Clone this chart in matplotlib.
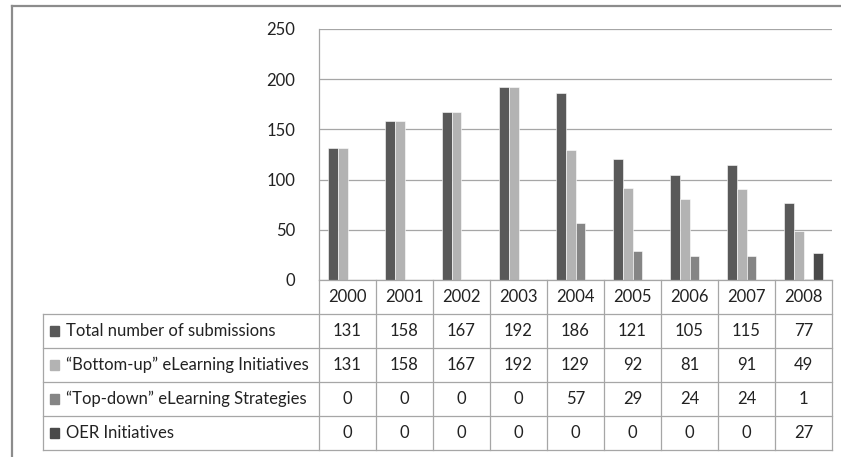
import matplotlib
matplotlib.use("Agg")
import matplotlib.pyplot as plt
from matplotlib.lines import Line2D
import numpy as np

plt.rcParams["font.family"] = ["Lato", "DejaVu Sans"]

# ── Data ─────────────────────────────────────────────────────────────────────
years = ["2000", "2001", "2002", "2003", "2004", "2005", "2006", "2007", "2008"]
total = [131, 158, 167, 192, 186, 121, 105, 115, 77]
bottom_up = [131, 158, 167, 192, 129, 92, 81, 91, 49]
top_down = [0, 0, 0, 0, 57, 29, 24, 24, 1]
oer = [0, 0, 0, 0, 0, 0, 0, 0, 27]

series_names = [
    "Total number of submissions",
    "\u201cBottom-up\u201d eLearning Initiatives",
    "\u201cTop-down\u201d eLearning Strategies",
    "OER Initiatives",
]
series_vals = [total, bottom_up, top_down, oer]
colors = ["#595959", "#b3b3b3", "#858585", "#4a4a4a"]
y_ticks = [0, 50, 100, 150, 200, 250]

# ── Layout (pixels of the 841x457 canvas) ────────────────────────────────────
W, H = 841, 457
PLOT_L, PLOT_R, PLOT_T, PLOT_B = 319, 832, 29, 280
TBL_L, TBL_B = 43, 450
GRID = "#a6a6a6"
TXT = "#222222"
FS = 12

fig = plt.figure(figsize=(W / 100, H / 100), dpi=100)

ax = fig.add_axes([PLOT_L / W, 1 - PLOT_B / H,
                   (PLOT_R - PLOT_L) / W, (PLOT_B - PLOT_T) / H])
x = np.arange(len(years))
bw = 0.175
for k, (vals, c) in enumerate(zip(series_vals, colors)):
    ax.bar(x + (k - 1.5) * bw, vals, width=bw, color=c,
           edgecolor="white", linewidth=0.4, zorder=3)

ax.set_xlim(-0.5, len(years) - 0.5)
ax.set_ylim(0, 250)
ax.set_yticks(y_ticks)
ax.set_xticks([])
ax.yaxis.grid(True, color=GRID, lw=0.9, zorder=0)
ax.tick_params(axis="y", length=0, pad=17, labelsize=FS, labelcolor=TXT)
for side in ("top", "right", "bottom"):
    ax.spines[side].set_visible(False)
ax.spines["left"].set_color(GRID)
ax.spines["left"].set_linewidth(0.9)

# ── Data table ───────────────────────────────────────────────────────────────
cat_px = (PLOT_R - PLOT_L) / len(years)
x_left = -0.5 - (PLOT_L - TBL_L) / cat_px
tax = fig.add_axes([TBL_L / W, 1 - TBL_B / H,
                    (PLOT_R - TBL_L) / W, (TBL_B - PLOT_B) / H])
tax.set_xlim(x_left, len(years) - 0.5)
n_rows = len(series_names) + 1
tax.set_ylim(n_rows, 0)
tax.axis("off")

lkw = dict(color=GRID, lw=0.9, clip_on=False)
tax.plot([-0.5, len(years) - 0.5], [0, 0], **lkw)
for r in range(1, n_rows + 1):
    tax.plot([x_left, len(years) - 0.5], [r, r], **lkw)
tax.plot([x_left, x_left], [1, n_rows], **lkw)
for i in range(len(years) + 1):
    tax.plot([i - 0.5, i - 0.5], [0, n_rows], **lkw)

for i, yr in enumerate(years):
    tax.text(i, 0.5, yr, ha="center", va="center", fontsize=FS, color=TXT)

sq_w = 9 / cat_px
for r, (name, vals, c) in enumerate(zip(series_names, series_vals, colors), start=1):
    yc = r + 0.5
    tax.add_patch(plt.Rectangle((x_left + 7 / cat_px, yc - 0.135), sq_w, 0.27,
                                color=c, clip_on=False))
    tax.text(x_left + 23 / cat_px, yc, name, ha="left", va="center",
             fontsize=FS, color=TXT)
    for i, v in enumerate(vals):
        tax.text(i, yc, str(v), ha="center", va="center",
                 fontsize=FS, color=TXT)

# outer chart frame (left and top edges visible)
frame_kw = dict(color="#8c8c8c", lw=1.6, transform=fig.transFigure)
fig.add_artist(Line2D([12 / W, 12 / W], [0, 1 - 6 / H], **frame_kw))
fig.add_artist(Line2D([12 / W, 1], [1 - 6 / H, 1 - 6 / H], **frame_kw))

fig.savefig("out.png", dpi=100)
